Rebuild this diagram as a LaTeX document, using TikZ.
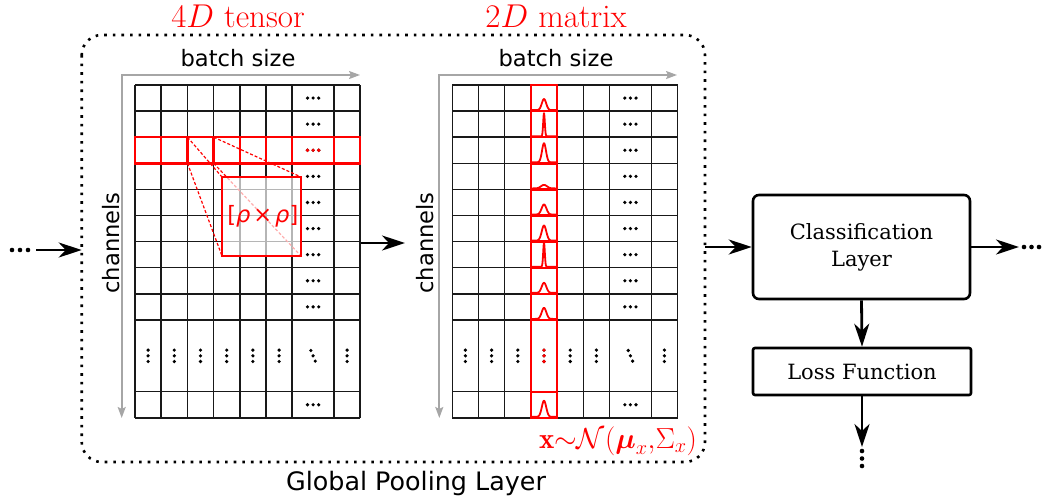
\RequirePackage{fix-cm}
\documentclass[tikz,border=0pt]{standalone}
\usepackage{amsmath}
\usepackage{fontspec}
\newfontfamily\sansdv{DejaVu Sans}
\newfontfamily\serifdv{DejaVu Serif}
\usetikzlibrary{arrows.meta,calc}

% column and row edges of one grid, relative to its top-left corner
\def\colE{0,26.2,52.4,78.6,104.8,131,157.2,199,225.2}
\def\rowE{0,26.1,52.2,78.3,104.4,130.5,156.6,182.7,208.8,234.9,306.7,332.8}

% three dots: horizontal, vertical, diagonal
\newcommand\threedotsH[3][black]{\fill[#1] (#2-5.6,#3) circle (1.8pt) (#2,#3) circle (1.8pt) (#2+5.6,#3) circle (1.8pt);}
\newcommand\threedotsV[3][black]{\fill[#1] (#2,#3-5.7) circle (1.8pt) (#2,#3) circle (1.8pt) (#2,#3+5.7) circle (1.8pt);}
\newcommand\threedotsD[3][black]{\fill[#1] (#2-2.2,#3-5.3) circle (1.8pt) (#2,#3) circle (1.8pt) (#2+2.2,#3+5.3) circle (1.8pt);}

% the plain grid of cells with its dots
\newcommand\cellgrid{%
  \foreach \c in \colE {\draw[cell] (\c,0) -- (\c,332.8);}
  \foreach \r in \rowE {\draw[cell] (0,\r) -- (225.2,\r);}
  \foreach \r in {13.05,39.15,65.25,91.35,117.45,143.55,169.65,195.75,221.85,319.75} {\threedotsH{178.1}{\r}}
  \foreach \c in {13.1,39.3,65.5,91.7,117.9,144.1,212.1} {\threedotsV{\c}{270.8}}
  \threedotsD{178.1}{270.8}
}

% a Gaussian bump: centre x, base y, amplitude, sigma
\newcommand\bump[4]{%
  \draw[bumpline] plot[domain=-13.1:13.1,samples=131]
    ({#1+\x},{#2-#3*exp(max(-9,-((\x)*(\x))/(2*#4*#4)))});}

\begin{document}
\begin{tikzpicture}[x=1pt,y=-1pt,
  cell/.style={draw=black!90,line width=1.5pt},
  hl/.style={draw=red,line width=2.4pt},
  axisline/.style={draw=black!35,line width=1.8pt,
    {Stealth[length=11pt,width=8pt,inset=2pt]}-{Stealth[length=11pt,width=8pt,inset=2pt]}},
  flow/.style={draw=black,line width=2.8pt,-{Stealth[length=23pt,width=15pt,inset=7pt]}},
  poolframe/.style={draw=black,line width=2.6pt,dash pattern=on 2.6pt off 6pt,rounded corners=20pt},
  layerbox/.style={draw=black,line width=2.6pt,rounded corners=6pt,
    font=\serifdv\fontsize{21}{26.7}\selectfont,align=center,inner sep=0pt},
  sanslabel/.style={font=\sansdv\fontsize{22.6}{27}\selectfont,inner sep=0pt},
  title/.style={text=red,font=\fontsize{33}{33}\selectfont,inner sep=0pt},
  proj/.style={draw=red,line width=1.2pt,dash pattern=on 3pt off 2pt},
  bumpline/.style={draw=red,line width=1.8pt,line join=round}
]
\useasboundingbox (0,0) rectangle (1046,501);

% global pooling frame
\draw[poolframe] (81.7,35) rectangle (705,462);
\node[sanslabel,font=\sansdv\fontsize{25.4}{30}\selectfont,anchor=base] (poollabel) at (416,490) {Global Pooling Layer};

% ---------- left grid: 4D tensor ----------
\node[title,anchor=base] (ttensor) at (238,27.3) {$4D$ tensor};
\node[sanslabel,anchor=base] (bsL) at (238,66) {batch size};
\node[sanslabel,rotate=90] (chL) at (111.5,243) {channels};
\coordinate (axL) at (121.7,75);
\draw[axisline] (121.7,418) -- (axL) -- (360,75);

\begin{scope}[shift={(135,85)}]
  \cellgrid
  % highlighted row
  \draw[hl] (0,52.2) rectangle (225.2,78.3);
  \foreach \c in {26.2,52.4,78.6,104.8,131,157.2,199} {\draw[hl] (\c,52.2) -- (\c,78.3);}
  \threedotsH[red]{178.1}{65.25}
\end{scope}

% one cell and its magnified [rho x rho] window
\coordinate (cTL) at (187.5,137.2);
\coordinate (cTR) at (213.7,137.2);
\coordinate (cBL) at (187.5,163.3);
\coordinate (cBR) at (213.7,163.3);
\draw[proj] (cTL) -- (222,177);
\draw[proj] (cTR) -- (301,177);
\draw[proj] (cBL) -- (222,256);
\draw[proj] (cBR) -- (301,256);
\node[draw=red,line width=2.6pt,fill=white,fill opacity=0.68,minimum size=79pt,
      inner sep=0pt,outer sep=0pt] (zoomsq) at (261.5,216.5) {};
\node[text=red,font=\sansdv\fontsize{22.5}{22.5}\selectfont,inner sep=0pt] (rho) at (262.8,216.5)
  {[\textit{ρ}\hspace{3pt}×\hspace{3pt}\textit{ρ}]};

% ---------- right grid: 2D matrix ----------
\node[title,anchor=base] (tmatrix) at (556,27.3) {$2D$ matrix};
\node[sanslabel,anchor=base] (bsR) at (556,66) {batch size};
\node[sanslabel,rotate=90] (chR) at (425.5,243) {channels};
\coordinate (axR) at (439.3,75);
\draw[axisline] (439.3,418) -- (axR) -- (677,75);

\begin{scope}[shift={(452.3,85)}]
  \cellgrid
  % highlighted column
  \draw[hl] (78.6,0) rectangle (104.8,332.8);
  \foreach \r in {26.1,52.2,78.3,104.4,130.5,156.6,182.7,208.8,234.9,306.7} {\draw[hl] (78.6,\r) -- (104.8,\r);}
  \threedotsV[red]{91.7}{270.8}
\end{scope}

% per-channel Gaussian distributions
\bump{544}{110.1}{11}{2.2}
\bump{544}{136.2}{23}{0.8}
\bump{544}{162.3}{19}{2.0}
\bump{544}{188.4}{3.5}{3}
\bump{544}{214.5}{10}{2.4}
\bump{544}{240.6}{15}{2.3}
\bump{544}{266.7}{24}{0.8}
\bump{544}{292.8}{10}{2.3}
\bump{544}{318.9}{11}{2.3}
\bump{544}{416.8}{16}{2.2}

\node[text=red,font=\fontsize{29}{29}\selectfont,anchor=base,inner sep=0pt] (gauss) at (618,448)
  {$\mathbf{x}{\sim}\mathcal{N}(\boldsymbol{\mu}_x{,}\Sigma_x)$};

% ---------- flow arrows and layers ----------
\fill (12,250) circle (2.3pt) (20,250) circle (2.3pt) (28,250) circle (2.3pt);
\coordinate (inS) at (36,250);
\coordinate (inE) at (81.7,250);
\draw[flow] (inS) -- (inE);

\coordinate (midS) at (361,243);
\coordinate (midE) at (405,243);
\draw[flow] (midS) -- (midE);

\node[layerbox,minimum width=217pt,minimum height=104pt] (cls) at (861.5,247) {Classification\\Layer};
\node[layerbox,rounded corners=2pt,minimum width=218pt,minimum height=47pt] (loss) at (862,371.5) {Loss Function};

\coordinate (frameR) at (705,247);
\draw[flow] (frameR) -- (cls.west);

\coordinate (outE) at (1019,247);
\draw[flow] (cls.east) -- (outE);
\fill (1024,247) circle (2.3pt) (1031.5,247) circle (2.3pt) (1039,247) circle (2.3pt);

\draw[flow] (cls.south) -- (loss.north);
\coordinate (downE) at (862,447);
\draw[flow] (loss.south) -- (downE);
\fill (862,451) circle (2.3pt) (862,458.5) circle (2.3pt) (862,466) circle (2.3pt);
\end{tikzpicture}
\end{document}
